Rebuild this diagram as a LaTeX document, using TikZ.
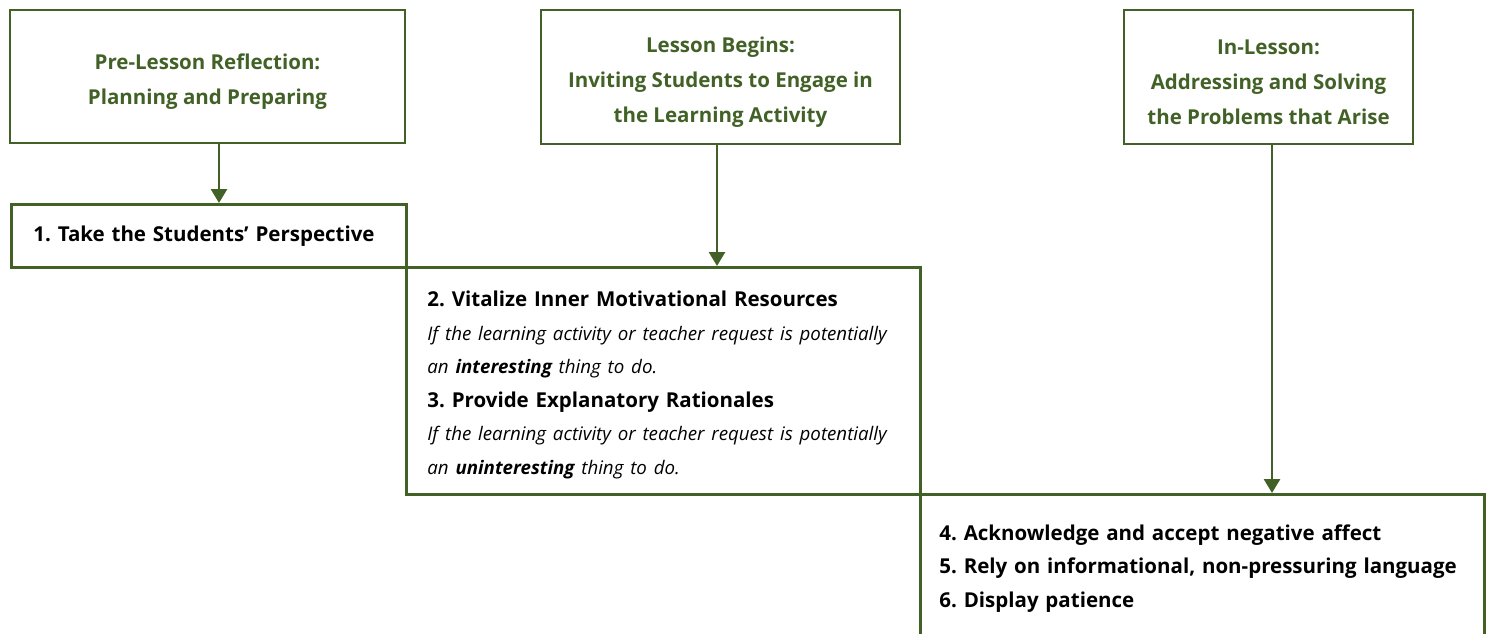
\documentclass[tikz,border=0pt]{standalone}
\usepackage{fontspec}
\setmainfont{Open Sans}
\usepackage{tikz}
\usetikzlibrary{arrows.meta}
\frenchspacing

\definecolor{olivedark}{HTML}{426127}

\tikzset{
    stagebox/.style={draw=olivedark, line width=2.8pt, inner ysep=0pt},
    headbox/.style={stagebox, align=center, text=olivedark, font=\bfseries\fontsize{20.5}{35}\selectfont},
    listbox/.style={stagebox, align=left, anchor=north west, font=\fontsize{20.5}{33.5}\selectfont},
    flow/.style={draw=olivedark, line width=2.8pt, -{Triangle[length=14pt,width=16pt]}}
}
\newcommand{\hint}[1]{{\itshape\fontsize{18.7}{33.5}\selectfont #1}}
\newcommand{\headstrut}[1]{\rule{0pt}{#1}}

\begin{document}
\begin{tikzpicture}[x=1pt, y=-1pt]
    \useasboundingbox (0,0) rectangle (1491,633);

    % the three stages
    \node[headbox, minimum width=395, minimum height=133] (prelesson) at (207.5,76.5)
        {\headstrut{25pt}Pre-Lesson Reflection:\\Planning and Preparing};
    \node[headbox, minimum width=359, minimum height=134] (begins) at (720.5,77)
        {\headstrut{25pt}Lesson Begins:\\Inviting Students to Engage in\\the Learning Activity};
    \node[headbox, minimum width=289, minimum height=134] (inlesson) at (1268.5,77)
        {\headstrut{25pt}In-Lesson:\\Addressing and Solving\\the Problems that Arise};

    % the steps, as a staircase
    \node[listbox, inner xsep=22, text width=351, minimum height=63] (perspective) at (10,203)
        {\textbf{1. Take the Students’ Perspective}};
    \node[listbox, inner xsep=21, text width=472, minimum height=227] (resources) at (405,266)
        {\headstrut{24pt}\textbf{2. Vitalize Inner Motivational Resources}\\
         \hint{If the learning activity or teacher request is potentially}\\
         \hint{an \textbf{interesting} thing to do.}\\
         \textbf{3. Provide Explanatory Rationales}\\
         \hint{If the learning activity or teacher request is potentially}\\
         \hint{an \textbf{uninteresting} thing to do.}};
    \node[listbox, inner xsep=19, text width=526, minimum height=148] (affect) at (919,493)
        {\textbf{4. Acknowledge and accept negative affect}\\
         \textbf{5. Rely on informational, non-pressuring language}\\
         \textbf{6. Display patience}};

    % arrows down
    \draw[flow] ([xshift=11.5]prelesson.south) -- ([xshift=11.5]prelesson.south |- perspective.north);
    \draw[flow] ([xshift=-3.5]begins.south) -- ([xshift=-3.5]begins.south |- resources.north);
    \draw[flow] ([xshift=3.5]inlesson.south) -- ([xshift=3.5]inlesson.south |- affect.north);
\end{tikzpicture}
\end{document}
